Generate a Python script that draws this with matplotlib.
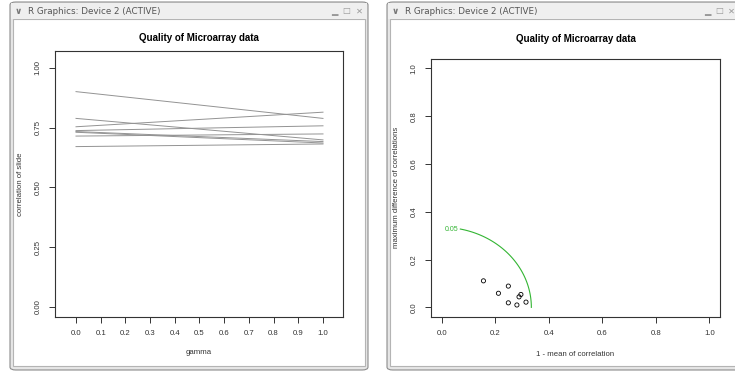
import numpy as np
import matplotlib
matplotlib.use('Agg')
import matplotlib.pyplot as plt
from matplotlib.patches import Rectangle, FancyBboxPatch

W, H = 735, 371

# left panel: correlation of each slide at gamma = 0 and gamma = 1
gamma = [0.0, 1.0]
corr_start = [0.901, 0.789, 0.754, 0.738, 0.734, 0.731, 0.715, 0.671]
corr_end = [0.789, 0.699, 0.815, 0.758, 0.692, 0.686, 0.724, 0.682]

# right panel: one point per slide
one_minus_mean = [0.156, 0.212, 0.249, 0.249, 0.281, 0.289, 0.296, 0.315]
max_diff = [0.111, 0.059, 0.089, 0.019, 0.010, 0.044, 0.054, 0.022]

contour_level = '0.05'
contour_radius = 0.335

left_xticks = [0.0, 0.1, 0.2, 0.3, 0.4, 0.5, 0.6, 0.7, 0.8, 0.9, 1.0]
left_yticks = [0.0, 0.25, 0.5, 0.75, 1.0]
right_ticks = [0.0, 0.2, 0.4, 0.6, 0.8, 1.0]

plt.rcParams['font.family'] = ['Liberation Sans', 'DejaVu Sans']

fig = plt.figure(figsize=(W / 100, H / 100), dpi=100)
fig.patch.set_facecolor('white')


def fx(x):
    return x / W


def fy(y):
    return 1 - y / H


def window(x0, x1, icons):
    # frame + title bar of an X11 window, in pixels
    fig.patches.append(FancyBboxPatch((fx(x0), fy(370)), fx(x1 - x0), (370 - 2) / H,
                                      boxstyle='round,pad=0,rounding_size=0.008',
                                      transform=fig.transFigure, facecolor='#e6e6e6',
                                      edgecolor='#8c8c8c', lw=0.8, zorder=-2))
    fig.patches.append(Rectangle((fx(x0 + 3), fy(366)), fx(x1 - x0 - 6), (366 - 19) / H,
                                 transform=fig.transFigure, facecolor='white',
                                 edgecolor='#b4b4b4', lw=0.8, zorder=-1))
    fig.patches.append(Rectangle((fx(x0 + 1), fy(19)), fx(x1 - x0 - 2), 16 / H,
                                 transform=fig.transFigure, facecolor='#efefef',
                                 edgecolor='none', zorder=-1))
    fig.text(fx(x0 + 8), fy(11), u'\u2228', fontsize=6.5, color='#777777',
             ha='center', va='center', family='DejaVu Sans', weight='bold')
    fig.text(fx(x0 + 18), fy(11.5), 'R Graphics: Device 2 (ACTIVE)', fontsize=6.3,
             color='#555555', ha='left', va='center', family='DejaVu Sans')
    for ix, glyph in zip(icons, [u'\u2582', u'\u25a1', u'\u2715']):
        fig.text(fx(ix), fy(11), glyph, fontsize=6, color='#999999',
                 ha='center', va='center', family='DejaVu Sans')


window(10, 368, [334, 346, 359])
window(387, 760, [707, 719, 731])


def style(ax):
    ax.set_facecolor('none')
    ax.set_zorder(1)
    for s in ax.spines.values():
        s.set_color('#333333')
        s.set_linewidth(0.8)
    ax.tick_params(direction='out', length=4.5, width=0.7, colors='#333333',
                   labelsize=5.6, pad=5)
    for lab in ax.get_yticklabels():
        lab.set_rotation(90)
        lab.set_va('center')


# ---- left panel
ax1 = fig.add_axes([fx(55), fy(317), fx(343 - 55), (317 - 51) / H])
for a, b in zip(corr_start, corr_end):
    ax1.plot(gamma, [a, b], color='#939393', lw=0.7)
ax1.set_xlim(-0.085, 1.081)
ax1.set_ylim(-0.042, 1.071)
ax1.set_xticks(left_xticks)
ax1.set_xticklabels(['%.1f' % t for t in left_xticks])
ax1.set_yticks(left_yticks)
ax1.set_yticklabels(['%.2f' % t for t in left_yticks])
style(ax1)
ax1.set_title('Quality of Microarray data', fontsize=7, weight='bold',
              y=(317 - 38) / 266, va='center', pad=0)
ax1.set_xlabel('gamma', fontsize=5.6, color='#333333')
ax1.xaxis.set_label_coords(0.5, (317 - 353) / 266)
ax1.xaxis.label.set_va('center')
ax1.set_ylabel('correlation of slide', fontsize=5.6, color='#333333')
ax1.yaxis.set_label_coords((21 - 55) / 288, 0.5)
ax1.yaxis.label.set_va('center')

# ---- right panel
ax2 = fig.add_axes([fx(431), fy(316.7), fx(720 - 431), (316.7 - 59) / H])
ang = np.linspace(0, np.radians(78), 100)
ax2.plot(contour_radius * np.cos(ang), contour_radius * np.sin(ang),
         color='#33b533', lw=0.8)
ax2.text(0.035, 0.327, contour_level, color='#33b533', fontsize=5,
         ha='center', va='center')
ax2.scatter(one_minus_mean, max_diff, s=9, facecolors='none',
            edgecolors='black', linewidths=0.6, zorder=3)
ax2.set_xlim(-0.04, 1.04)
ax2.set_ylim(-0.039, 1.039)
ax2.set_xticks(right_ticks)
ax2.set_xticklabels(['%.1f' % t for t in right_ticks])
ax2.set_yticks(right_ticks)
ax2.set_yticklabels(['%.1f' % t for t in right_ticks])
style(ax2)
ax2.set_title('Quality of Microarray data', fontsize=7, weight='bold',
              y=(316.7 - 39) / 257.7, va='center', pad=0)
ax2.set_xlabel('1 - mean of correlation', fontsize=5.6, color='#333333')
ax2.xaxis.set_label_coords(0.5, (316.7 - 354) / 257.7)
ax2.xaxis.label.set_va('center')
ax2.set_ylabel('maximum difference of correlations', fontsize=5.6, color='#333333')
ax2.yaxis.set_label_coords((397 - 431) / 289, 0.5)
ax2.yaxis.label.set_va('center')

fig.savefig('out.png', dpi=100)
